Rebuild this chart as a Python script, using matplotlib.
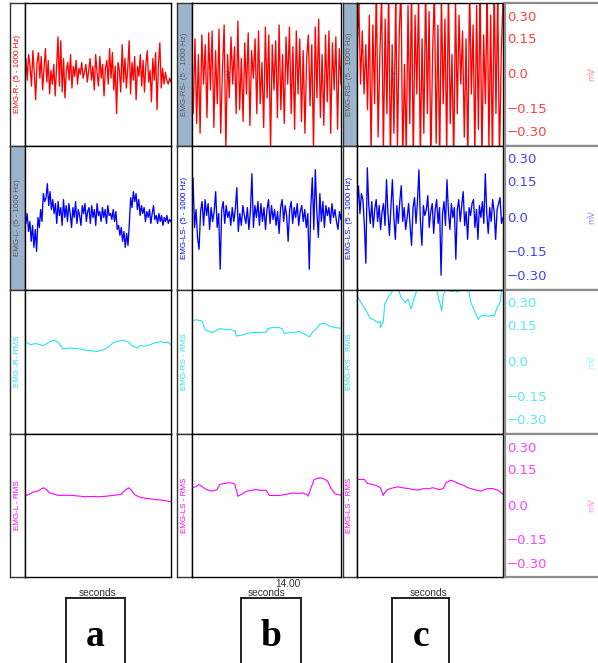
import numpy as np
import matplotlib
matplotlib.use("Agg")
import matplotlib.pyplot as plt

W, H = 598, 663

# ---- raw EMG (mV), evenly sampled over the window ----
emg_r_a = [0.02, 0.08, -0.03, 0.10, 0.04, -0.06, 0.12, 0.01, -0.13, 0.06, 0.11, -0.02, 0.09, -0.08,
           0.03, 0.13, -0.04, 0.07, -0.10, 0.02, -0.05, 0.05, -0.11, 0.04, 0.19, -0.06, 0.17, -0.09,
           0.08, -0.12, 0.02, 0.06, -0.03, 0.10, -0.07, 0.04, -0.01, 0.07, -0.05, 0.03, 0.00, 0.06,
           -0.02, 0.01, 0.05, -0.04, 0.02, 0.08, -0.03, 0.04, -0.08, 0.10, 0.01, -0.06, 0.09, -0.02,
           0.05, -0.11, 0.03, 0.07, -0.05, 0.13, -0.02, 0.11, -0.08, 0.04, -0.20, 0.06, 0.02, -0.09,
           0.15, -0.04, 0.08, -0.07, 0.03, 0.17, -0.10, 0.06, -0.03, 0.09, -0.13, 0.04, -0.01, 0.10,
           -0.06, 0.07, -0.09, 0.05, 0.12, -0.04, 0.02, -0.14, 0.08, -0.03, 0.11, -0.18, 0.05, 0.16,
           -0.07, 0.03, -0.05, 0.01, -0.03, -0.05, -0.02, -0.04]
emg_rs_b = [0.05, -0.20, 0.18, -0.25, 0.10, -0.30, 0.20, -0.05, 0.15, -0.22, 0.21, -0.08, 0.22, -0.27,
            0.12, -0.15, 0.23, -0.30, 0.02, 0.25, -0.38, 0.10, -0.12, 0.19, -0.05, 0.14, -0.20, 0.27,
            -0.18, 0.08, -0.24, 0.16, -0.10, 0.21, -0.26, 0.12, -0.02, 0.18, -0.20, 0.22, -0.15, 0.06,
            -0.27, 0.24, -0.12, 0.20, -0.38, 0.15, -0.08, 0.17, -0.22, 0.25, -0.18, 0.10, -0.25, 0.19,
            -0.05, 0.24, -0.20, 0.14, -0.28, 0.22, -0.10, 0.18, -0.24, 0.12, -0.30, 0.08, 0.20, -0.16,
            0.15, -0.38, 0.24, -0.12, 0.28, -0.22, 0.10, -0.26, 0.20, -0.14, 0.22, -0.30, 0.16, -0.08,
            0.19, -0.28, 0.13, -0.05]
emg_rs_c = [0.05, 0.40, -0.05, 0.22, -0.10, 0.15, -0.18, 0.30, -0.40, 0.25, -0.15, 0.45, -0.32, 0.10,
            0.40, -0.40, 0.28, -0.20, 0.45, -0.45, 0.15, -0.30, 0.40, -0.38, 0.20, 0.45, -0.45, 0.05,
            -0.40, 0.35, -0.25, 0.45, -0.45, 0.30, -0.10, 0.40, -0.42, 0.18, -0.30, 0.45, -0.20, 0.32,
            -0.45, 0.12, 0.42, -0.35, 0.25, -0.45, 0.40, -0.15, 0.28, -0.40, 0.45, -0.25, 0.10, -0.45,
            0.38, -0.20, 0.30, -0.05, 0.22, -0.32, 0.18, -0.45, 0.45, -0.10, 0.25, -0.40, 0.35, -0.28,
            0.45, -0.45, 0.20, -0.15, 0.42, -0.38, 0.30, -0.45, 0.45, -0.20, 0.40, -0.45, 0.10, 0.38]
emg_l_a = [0.01, -0.03, 0.02, -0.07, -0.02, -0.12, -0.04, -0.15, -0.06, -0.17, 0.00, -0.05, 0.04, -0.02,
           0.12, 0.08, 0.10, 0.17, 0.06, 0.13, 0.04, 0.09, 0.02, 0.07, -0.03, 0.08, 0.01, 0.05, -0.04,
           0.09, 0.00, 0.06, -0.02, 0.07, 0.02, -0.05, 0.05, 0.00, 0.08, -0.03, 0.04, 0.01, -0.04, 0.06,
           0.02, 0.07, -0.02, 0.03, 0.05, -0.03, 0.06, 0.00, 0.04, -0.04, 0.07, 0.01, 0.03, -0.02, 0.05,
           0.00, 0.04, -0.03, 0.06, 0.01, 0.02, -0.01, 0.04, -0.02, 0.03, -0.06, -0.04, -0.09, -0.05,
           -0.12, -0.07, -0.15, -0.08, -0.14, -0.03, 0.10, 0.05, 0.13, 0.08, 0.12, 0.04, 0.09, 0.01,
           0.06, 0.02, 0.05, -0.02, 0.03, 0.00, 0.04, -0.03, 0.02, 0.06, -0.01, 0.01, -0.03, 0.02, -0.02,
           0.01, -0.04, 0.00, -0.02, 0.01, -0.03, -0.01, -0.02]
emg_ls_b = [0.02, 0.20, -0.05, 0.04, -0.10, -0.16, 0.03, 0.08, -0.04, 0.09, 0.01, 0.07, -0.06, 0.05,
            -0.02, 0.03, 0.13, -0.05, 0.02, -0.26, 0.04, 0.08, -0.03, 0.06, 0.00, 0.03, -0.04, 0.05,
            -0.02, 0.04, 0.15, -0.07, 0.02, -0.04, 0.06, 0.01, -0.03, 0.05, -0.06, 0.03, 0.22, -0.05,
            0.06, 0.00, 0.08, -0.04, 0.07, -0.02, 0.05, -0.06, 0.04, 0.09, -0.03, 0.06, -0.01, 0.04,
            -0.04, 0.03, -0.08, 0.05, 0.09, -0.02, 0.06, 0.01, -0.12, 0.04, 0.08, -0.03, 0.05, 0.00,
            0.07, -0.04, 0.03, 0.06, -0.02, 0.04, -0.05, 0.02, -0.26, 0.05, 0.20, -0.06, 0.24, 0.03,
            -0.10, 0.12, -0.02, 0.08, -0.05, 0.06, 0.01, 0.05, -0.03, 0.07, 0.00, 0.04, -0.02, -0.06,
            0.03, -0.01]
emg_ls_c = [0.05, 0.16, 0.02, 0.12, 0.09, -0.04, -0.23, 0.25, 0.06, -0.03, 0.08, -0.05, 0.04, 0.09,
            -0.02, 0.06, -0.06, 0.03, 0.07, -0.04, 0.19, 0.02, -0.09, 0.05, 0.19, 0.00, -0.11, 0.06,
            -0.03, 0.08, 0.16, -0.02, 0.05, -0.06, 0.00, 0.07, -0.04, -0.14, 0.05, 0.10, -0.03, 0.08,
            0.24, -0.02, -0.14, 0.06, 0.01, 0.04, 0.11, -0.05, 0.03, 0.07, -0.08, 0.04, 0.09, -0.03,
            0.05, -0.29, 0.02, 0.08, -0.04, 0.19, 0.03, -0.06, 0.07, 0.00, 0.05, -0.21, 0.04, 0.09,
            -0.02, 0.06, 0.13, -0.04, 0.03, -0.11, 0.05, 0.01, 0.07, 0.09, -0.05, 0.04, -0.11, 0.06,
            0.00, 0.08, -0.03, 0.22, 0.02, -0.08, 0.05, -0.02, 0.09, 0.03, -0.11, 0.04, 0.07, 0.10,
            -0.03, 0.00]

# ---- RMS envelopes: time (fraction of window) and value (mV) ----
rms_r_a_t = [0.00, 0.04, 0.08, 0.13, 0.16, 0.20, 0.23, 0.26, 0.31, 0.36, 0.40, 0.42, 0.47, 0.49, 0.53,
             0.56, 0.58, 0.61, 0.64, 0.67, 0.71, 0.74, 0.77, 0.79, 0.82, 0.86, 0.89, 0.93, 0.96, 0.98, 1.00]
rms_r_a = [0.103, 0.086, 0.091, 0.081, 0.095, 0.108, 0.098, 0.066, 0.069, 0.066, 0.061, 0.057, 0.054,
           0.051, 0.057, 0.069, 0.078, 0.098, 0.103, 0.108, 0.098, 0.078, 0.069, 0.081, 0.078, 0.086,
           0.095, 0.100, 0.095, 0.098, 0.086]
rms_rs_b_t = [0.00, 0.03, 0.07, 0.09, 0.11, 0.14, 0.17, 0.19, 0.22, 0.26, 0.29, 0.30, 0.33, 0.37, 0.41,
              0.46, 0.50, 0.51, 0.54, 0.59, 0.61, 0.62, 0.66, 0.68, 0.72, 0.76, 0.79, 0.81, 0.83, 0.86,
              0.89, 0.92, 0.96, 1.00]
rms_rs_b = [0.205, 0.210, 0.205, 0.162, 0.154, 0.146, 0.159, 0.166, 0.162, 0.162, 0.154, 0.129, 0.132,
            0.142, 0.146, 0.146, 0.149, 0.166, 0.171, 0.171, 0.162, 0.142, 0.146, 0.146, 0.152, 0.137,
            0.125, 0.149, 0.162, 0.188, 0.193, 0.179, 0.171, 0.168]
rms_rs_c_t = [0.00, 0.02, 0.04, 0.07, 0.09, 0.11, 0.14, 0.16, 0.16, 0.18, 0.19, 0.22, 0.24, 0.25, 0.28,
              0.30, 0.32, 0.33, 0.35, 0.37, 0.39, 0.42, 0.47, 0.52, 0.54, 0.56, 0.57, 0.58, 0.59, 0.61,
              0.65, 0.67, 0.69, 0.73, 0.75, 0.76, 0.78, 0.81, 0.83, 0.85, 0.88, 0.90, 0.92, 0.94, 0.96,
              0.98, 0.99, 1.00]
rms_rs_c = [0.332, 0.306, 0.281, 0.247, 0.217, 0.213, 0.196, 0.200, 0.171, 0.200, 0.289, 0.332, 0.349,
            0.374, 0.374, 0.325, 0.306, 0.296, 0.315, 0.264, 0.315, 0.382, 0.391, 0.391, 0.382, 0.315,
            0.289, 0.255, 0.332, 0.365, 0.352, 0.357, 0.349, 0.382, 0.391, 0.374, 0.296, 0.247, 0.213,
            0.230, 0.234, 0.227, 0.234, 0.230, 0.272, 0.296, 0.357, 0.382]
rms_l_a_t = [0.00, 0.03, 0.06, 0.09, 0.13, 0.15, 0.17, 0.21, 0.23, 0.29, 0.33, 0.38, 0.42, 0.47, 0.51,
             0.56, 0.60, 0.64, 0.66, 0.68, 0.71, 0.73, 0.75, 0.78, 0.82, 0.86, 0.89, 0.94, 1.00]
rms_l_a = [0.047, 0.056, 0.068, 0.073, 0.090, 0.081, 0.064, 0.056, 0.051, 0.052, 0.051, 0.047, 0.044,
           0.046, 0.044, 0.047, 0.051, 0.054, 0.056, 0.073, 0.090, 0.078, 0.056, 0.044, 0.037, 0.034,
           0.030, 0.027, 0.019]
rms_ls_b_t = [0.00, 0.03, 0.05, 0.08, 0.10, 0.12, 0.14, 0.17, 0.19, 0.22, 0.26, 0.28, 0.29, 0.31, 0.34,
              0.37, 0.41, 0.43, 0.47, 0.50, 0.52, 0.55, 0.59, 0.63, 0.68, 0.71, 0.74, 0.77, 0.78, 0.80,
              0.82, 0.84, 0.86, 0.88, 0.91, 0.93, 0.96, 1.00]
rms_ls_b = [0.090, 0.095, 0.107, 0.090, 0.081, 0.076, 0.073, 0.081, 0.107, 0.112, 0.115, 0.112, 0.107,
            0.047, 0.059, 0.073, 0.078, 0.081, 0.076, 0.078, 0.051, 0.051, 0.051, 0.056, 0.064, 0.061,
            0.064, 0.056, 0.047, 0.090, 0.132, 0.137, 0.140, 0.137, 0.124, 0.090, 0.059, 0.052]
rms_ls_c_t = [0.00, 0.05, 0.07, 0.10, 0.13, 0.16, 0.18, 0.19, 0.21, 0.25, 0.28, 0.31, 0.35, 0.38, 0.42,
              0.45, 0.49, 0.52, 0.56, 0.59, 0.61, 0.64, 0.66, 0.69, 0.73, 0.76, 0.80, 0.83, 0.85, 0.89,
              0.93, 0.97, 1.00]
rms_ls_c = [0.132, 0.132, 0.112, 0.107, 0.102, 0.090, 0.051, 0.064, 0.081, 0.090, 0.095, 0.090, 0.086,
            0.081, 0.078, 0.085, 0.085, 0.090, 0.081, 0.085, 0.115, 0.128, 0.124, 0.112, 0.102, 0.090,
            0.081, 0.076, 0.073, 0.085, 0.086, 0.076, 0.056]

row_labels = [
    ["EMG-R- (5 - 1000 Hz)", "EMG-RS- (5 - 1000 Hz)", "EMG-RS- (5 - 1000 Hz)"],
    ["EMG-L- (5 - 1000 Hz)", "EMG-LS- (5 - 1000 Hz)", "EMG-LS- (5 - 1000 Hz)"],
    ["EMG -R- RMS", "EMG-RS - RMS", "EMG-RS - RMS"],
    ["EMG-L - RMS", "EMG-LS - RMS", "EMG-LS - RMS"],
]
tick_text = ["0.30", "0.15", "0.0", "\u22120.15", "\u22120.30"]
panel_letters = ["a", "b", "c"]

raw = [[emg_r_a, emg_rs_b, emg_rs_c], [emg_l_a, emg_ls_b, emg_ls_c]]
rms = [[(rms_r_a_t, rms_r_a), (rms_rs_b_t, rms_rs_b), (rms_rs_c_t, rms_rs_c)],
       [(rms_l_a_t, rms_l_a), (rms_ls_b_t, rms_ls_b), (rms_ls_c_t, rms_ls_c)]]

colors = ["#ff0000", "#0000ff", "#22e4ec", "#ff00ff"]
strip_fill = "#9cb3cc"
filled = {(0, 1), (0, 2), (1, 0)}

# layout in pixels
rows = [(3, 145.5), (145.5, 289.5), (289.5, 434), (434, 577)]
strips = [(10, 24.5), (177, 191.5), (343, 357)]
plots = [(24.5, 171), (191.5, 341), (357, 503)]
YL = 0.362
# the scale labels of the recorder are not evenly spaced
tick_frac = [0.90, 0.745, 0.495, 0.255, 0.09]


def box(x0, y0, x1, y1):
    return [x0 / W, 1 - y1 / H, (x1 - x0) / W, (y1 - y0) / H]


def bare(ax):
    ax.set_xticks([])
    ax.set_yticks([])


fig = plt.figure(figsize=(W / 100, H / 100), dpi=100)

for i, (y0, y1) in enumerate(rows):
    for j in range(3):
        # label strip
        sx = strips[j]
        sa = fig.add_axes(box(sx[0], y0, sx[1], y1))
        bare(sa)
        sa.set_facecolor(strip_fill if (i, j) in filled else "white")
        for s in sa.spines.values():
            s.set_color("#333333")
            s.set_linewidth(1.0)
        tc = "#5c5c5c" if (i, j) in filled else colors[i]
        sa.text(0.5, 0.5, row_labels[i][j], rotation=90, ha="center", va="center",
                fontsize=5.8, color=tc, family="Liberation Sans", transform=sa.transAxes)

        # plot area
        px = plots[j]
        ax = fig.add_axes(box(px[0], y0, px[1], y1))
        bare(ax)
        ax.set_xlim(0, 1)
        ax.set_ylim(-YL, YL)
        for s in ax.spines.values():
            s.set_color("black")
            s.set_linewidth(1.0)
        if i < 2:
            vals = raw[i][j]
            t = np.linspace(0, 1, len(vals))
            ax.plot(t, vals, color=colors[i], lw=0.95)
        else:
            t, vals = rms[i - 2][j]
            ax.plot(t, vals, color=colors[i], lw=0.8)
        if i == 0 and j > 0:
            ax.text(0.25, 0.0, "mV", rotation=90, ha="center", va="center", fontsize=4.5,
                    color="#444444", transform=ax.get_yaxis_transform())

    # right-hand amplitude scale
    ra = fig.add_axes(box(505, y0, 601, y1))
    bare(ra)
    for s in ra.spines.values():
        s.set_color("#8c8c8c")
        s.set_linewidth(1.6)
    for f, lab in zip(tick_frac, tick_text):
        ra.text(0.02, f, lab, ha="left", va="center", fontsize=9.5, color=colors[i],
                alpha=0.75, transform=ra.transAxes)
    ra.text(0.90, 0.5, "mV", rotation=90, ha="center", va="center", fontsize=6,
            color=colors[i], alpha=0.45, transform=ra.transAxes)

# time axis text
for xc in [98, 267, 429]:
    fig.text(xc / W, 1 - 593 / H, "seconds", ha="center", va="center", fontsize=7.3,
             color="#333333", family="Liberation Sans")
fig.text(288 / W, 1 - 584 / H, "14.00", ha="center", va="center", fontsize=7.3,
         color="#333333", family="Liberation Sans")

# panel letter boxes
for (bx0, bx1), letter in zip([(65.7, 124.7), (240.7, 300.7), (392, 449.3)], panel_letters):
    la = fig.add_axes(box(bx0, 598, bx1, 663.5))
    bare(la)
    for s in la.spines.values():
        s.set_color("#222222")
        s.set_linewidth(1.4)
    la.text(0.5, 0.41, letter, ha="center", va="center", fontsize=27, fontweight="bold",
            family="Liberation Serif", transform=la.transAxes)

fig.savefig("out.png", dpi=100)
